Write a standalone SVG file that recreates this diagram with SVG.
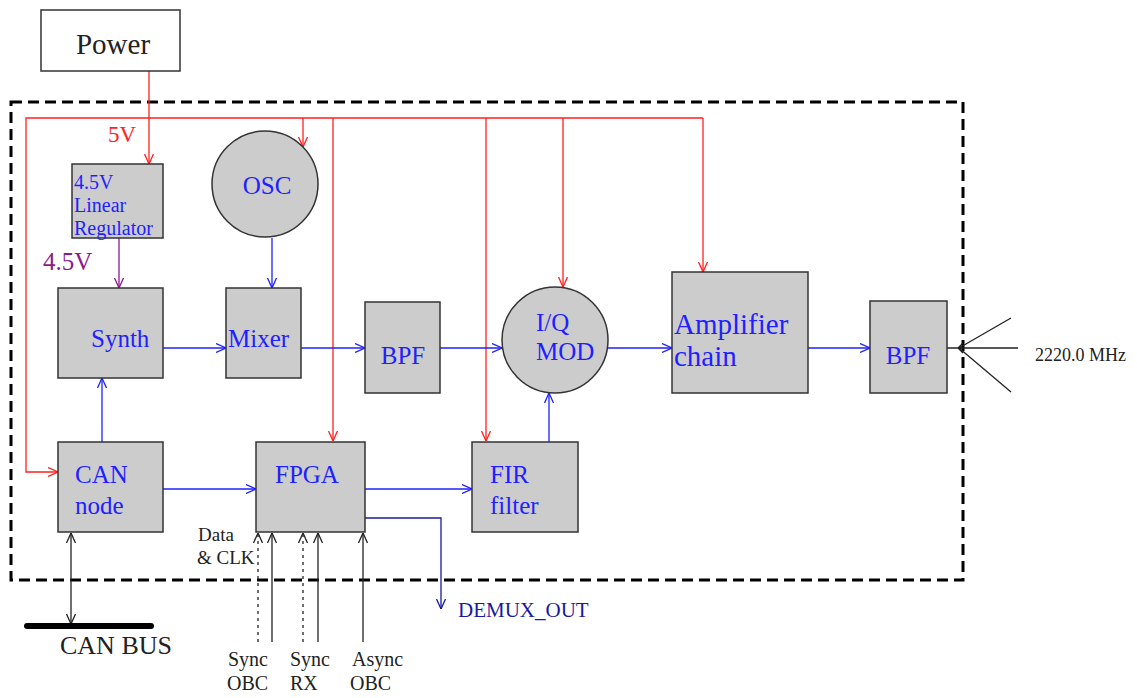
<svg xmlns="http://www.w3.org/2000/svg" width="1137" height="698" viewBox="0 0 1137 698">
<style>
.box{fill:#cccccc;stroke:#333;stroke-width:1.5}
.lbl{font-family:"Liberation Serif",serif;fill:#1f1fff}
.blk{font-family:"Liberation Serif",serif;fill:#222}
.red{stroke:#ff2020;stroke-width:1.3;fill:none}
.blue{stroke:#2020ff;stroke-width:1.3;fill:none}
.pur{stroke:#8b1a8b;stroke-width:1.3;fill:none}
.dk{stroke:#222;stroke-width:1.3;fill:none}
.navy{stroke:#1a1aa0;stroke-width:1.3;fill:none}
</style>
<defs>
<marker id="aR" viewBox="0 0 10 10" refX="10" refY="5" markerWidth="10" markerHeight="10" markerUnits="userSpaceOnUse" orient="auto"><path d="M0,0.5 L10,5 L0,9.5" fill="none" stroke="#ff2020" stroke-width="1.3"/></marker>
<marker id="aB" viewBox="0 0 10 10" refX="10" refY="5" markerWidth="10" markerHeight="10" markerUnits="userSpaceOnUse" orient="auto"><path d="M0,0.5 L10,5 L0,9.5" fill="none" stroke="#2020ff" stroke-width="1.3"/></marker>
<marker id="aP" viewBox="0 0 10 10" refX="10" refY="5" markerWidth="10" markerHeight="10" markerUnits="userSpaceOnUse" orient="auto"><path d="M0,0.5 L10,5 L0,9.5" fill="none" stroke="#8b1a8b" stroke-width="1.3"/></marker>
<marker id="aK" viewBox="0 0 10 10" refX="10" refY="5" markerWidth="10" markerHeight="10" markerUnits="userSpaceOnUse" orient="auto-start-reverse"><path d="M0,0.5 L10,5 L0,9.5" fill="none" stroke="#222" stroke-width="1.3"/></marker>
<marker id="aN" viewBox="0 0 10 10" refX="10" refY="5" markerWidth="10" markerHeight="10" markerUnits="userSpaceOnUse" orient="auto"><path d="M0,0.5 L10,5 L0,9.5" fill="none" stroke="#1a1aa0" stroke-width="1.3"/></marker>
</defs>

<rect x="11" y="102" width="952" height="478" fill="none" stroke="#000" stroke-width="3" stroke-dasharray="11,6"/>

<g id="connectors">
<path class="red" d="M149,71 V164" marker-end="url(#aR)"/>
<path class="red" d="M703,118 H26 V472 H58" marker-end="url(#aR)"/>
<path class="red" d="M303,118 V147" marker-end="url(#aR)"/>
<path class="red" d="M333,118 V441" marker-end="url(#aR)"/>
<path class="red" d="M486,118 V441" marker-end="url(#aR)"/>
<path class="red" d="M563,118 V287" marker-end="url(#aR)"/>
<path class="red" d="M703,118 V272" marker-end="url(#aR)"/>
<path class="pur" d="M119,238 V288" marker-end="url(#aP)"/>
<path class="blue" d="M272,238 V288" marker-end="url(#aB)"/>
<path class="blue" d="M163,348 H226" marker-end="url(#aB)"/>
<path class="blue" d="M301,348 H365" marker-end="url(#aB)"/>
<path class="blue" d="M440,348 H502" marker-end="url(#aB)"/>
<path class="blue" d="M608,348 H672" marker-end="url(#aB)"/>
<path class="blue" d="M808,348 H870" marker-end="url(#aB)"/>
<path class="blue" d="M102,442 V378" marker-end="url(#aB)"/>
<path class="blue" d="M163,489 H256" marker-end="url(#aB)"/>
<path class="blue" d="M365,489 H472" marker-end="url(#aB)"/>
<path class="blue" d="M549,442 V393" marker-end="url(#aB)"/>
<path class="navy" d="M365,518 H441 V609" marker-end="url(#aN)"/>
<path class="dk" d="M71,624 V533" marker-start="url(#aK)" marker-end="url(#aK)"/>
<line x1="27" y1="626" x2="151" y2="626" stroke="#000" stroke-width="6" stroke-linecap="round"/>
<path class="dk" d="M258,642 V533" stroke-dasharray="3,4" stroke-width="2" marker-end="url(#aK)"/>
<path class="dk" d="M272,642 V533" marker-end="url(#aK)"/>
<path class="dk" d="M303,642 V533" stroke-dasharray="3,4" stroke-width="2" marker-end="url(#aK)"/>
<path class="dk" d="M318,642 V533" marker-end="url(#aK)"/>
<path class="dk" d="M363,642 V533" marker-end="url(#aK)"/>
<path class="dk" d="M947,348 H1018 M959,348 L1011,318 M959,348 L1011,392 M963,343 L958,348 L963,353"/>
</g>

<g id="power"><rect x="41" y="10" width="139" height="61" fill="#fff" stroke="#333" stroke-width="1.5"/><text class="blk" x="113" y="54" font-size="29" text-anchor="middle">Power</text></g>
<g id="lbl5v"><text x="108" y="142" font-family="Liberation Serif, serif" font-size="23" fill="#ff2020">5V</text></g>
<g id="lbl45v"><text x="43" y="270" font-family="Liberation Serif, serif" font-size="25" fill="#8b1a8b">4.5V</text></g>
<g id="regulator"><rect class="box" x="72" y="164" width="91" height="74"/><text class="lbl" font-size="20"><tspan x="74" y="189">4.5V</tspan><tspan x="74" y="212">Linear</tspan><tspan x="74" y="235">Regulator</tspan></text></g>
<g id="osc"><circle class="box" cx="265" cy="184" r="53"/><text class="lbl" x="267" y="194" font-size="25" text-anchor="middle">OSC</text></g>
<g id="synth"><rect class="box" x="58" y="288" width="105" height="90"/><text class="lbl" x="91" y="347" font-size="25">Synth</text></g>
<g id="mixer"><rect class="box" x="226" y="288" width="75" height="90"/><text class="lbl" x="228" y="347" font-size="25">Mixer</text></g>
<g id="bpf1"><rect class="box" x="365" y="302" width="75" height="91"/><text class="lbl" x="403" y="364" font-size="25" text-anchor="middle">BPF</text></g>
<g id="iqmod"><circle class="box" cx="555" cy="340" r="53"/><text class="lbl" font-size="25"><tspan x="536" y="331">I/Q</tspan><tspan x="536" y="360">MOD</tspan></text></g>
<g id="amp"><rect class="box" x="672" y="272" width="136" height="121"/><text class="lbl" font-size="29"><tspan x="674" y="334">Amplifier</tspan><tspan x="674" y="366">chain</tspan></text></g>
<g id="bpf2"><rect class="box" x="870" y="301" width="77" height="92"/><text class="lbl" x="908" y="364" font-size="25" text-anchor="middle">BPF</text></g>
<g id="freq"><text class="blk" x="1035" y="361" font-size="18" fill="#000">2220.0 MHz</text></g>
<g id="can"><rect class="box" x="58" y="442" width="105" height="90"/><text class="lbl" font-size="25"><tspan x="75" y="483">CAN</tspan><tspan x="75" y="514">node</tspan></text></g>
<g id="fpga"><rect class="box" x="256" y="442" width="109" height="90"/><text class="lbl" x="275" y="483" font-size="25">FPGA</text></g>
<g id="fir"><rect class="box" x="472" y="442" width="106" height="90"/><text class="lbl" font-size="25"><tspan x="490" y="483">FIR</tspan><tspan x="490" y="514">filter</tspan></text></g>
<g id="demux"><text x="458" y="617" font-family="Liberation Serif, serif" font-size="21" fill="#1a1aa0">DEMUX_OUT</text></g>
<g id="canbus"><text class="blk" x="60" y="654" font-size="26">CAN BUS</text></g>
<g id="datalbl"><text class="blk" font-size="19"><tspan x="198" y="541">Data</tspan><tspan x="197" y="564">&amp; CLK</tspan></text></g>
<g id="syncobc"><text class="blk" font-size="20"><tspan x="228" y="666">Sync</tspan><tspan x="227" y="690">OBC</tspan></text></g>
<g id="syncrx"><text class="blk" font-size="20"><tspan x="290" y="666">Sync</tspan><tspan x="290" y="690">RX</tspan></text></g>
<g id="asyncobc"><text class="blk" font-size="20"><tspan x="352" y="666">Async</tspan><tspan x="350" y="690">OBC</tspan></text></g>
</svg>
